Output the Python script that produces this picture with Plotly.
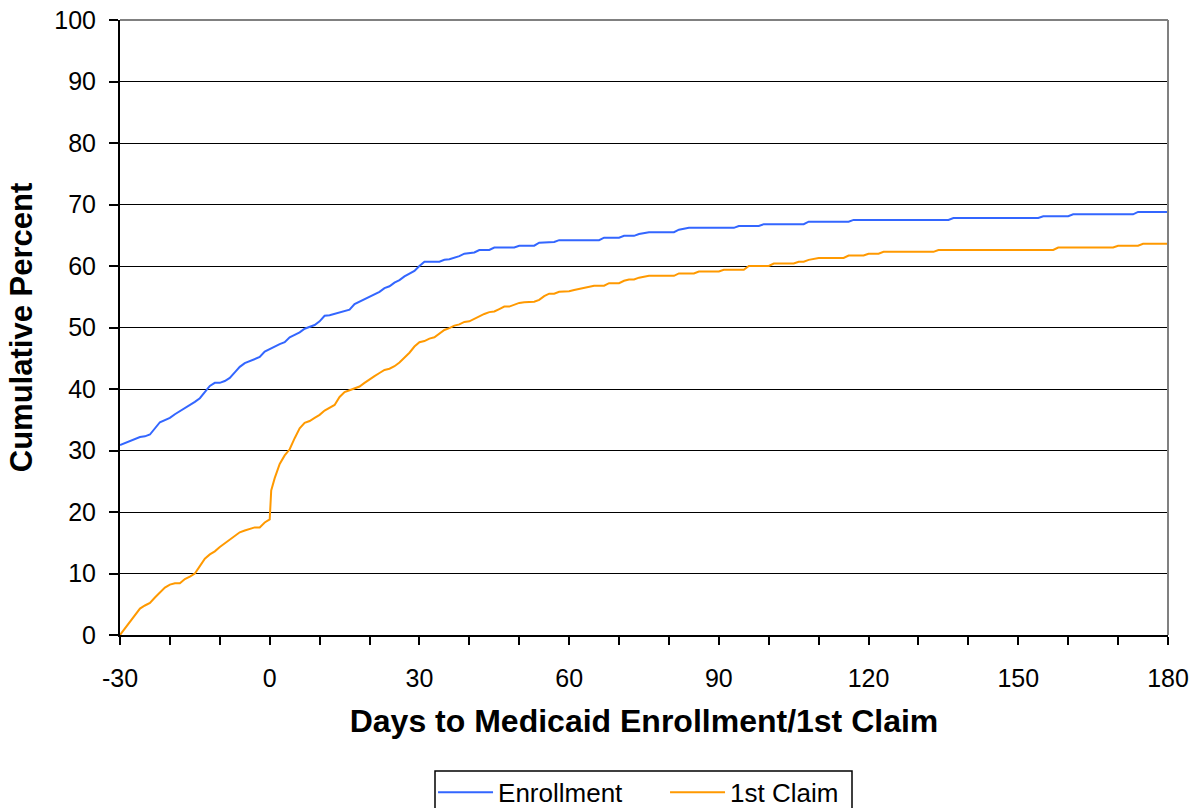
import plotly.graph_objects as go

# Cumulative percent by day relative to Medicaid enrollment / first claim
enroll_days = [-30, -28, -26, -25, -24, -22, -21, -20, -19, -18, -17, -16, -15, -14, -13,
               -12, -11, -10, -9, -8, -7, -6, -5, -4, -3, -2, -1, 0, 1, 2, 3, 4, 5, 6, 7,
               8, 9, 10, 11, 12, 13, 14, 15, 16, 17, 18, 19, 20, 21, 22, 23, 24, 25, 26, 27,
               28, 29, 30, 31, 34, 35, 36, 37, 38, 39, 41, 42, 44, 45, 49, 50, 53, 54, 57,
               58, 66, 67, 70, 71, 73, 74, 76, 81, 82, 84, 93, 94, 98, 99, 107, 108, 116,
               117, 136, 137, 154, 155, 160, 161, 173, 174, 180]
enroll_pct = [30.9, 31.6, 32.2, 32.3, 32.6, 34.6, 35.0, 35.3, 35.9, 36.4, 36.8, 37.4, 37.9,
              38.5, 39.6, 40.5, 41.0, 41.0, 41.3, 41.8, 42.7, 43.6, 44.2, 44.5, 44.8, 45.2,
              46.1, 46.5, 47.0, 47.3, 47.6, 48.4, 48.8, 49.2, 49.8, 50.1, 50.4, 51.0, 51.9,
              52.0, 52.2, 52.5, 52.6, 52.9, 53.8, 54.2, 54.6, 55.0, 55.4, 55.8, 56.4, 56.7,
              57.3, 57.7, 58.3, 58.7, 59.2, 60.0, 60.7, 60.7, 61.0, 61.1, 61.3, 61.6, 62.0,
              62.2, 62.6, 62.6, 63.0, 63.0, 63.3, 63.3, 63.8, 63.9, 64.2, 64.2, 64.6, 64.6,
              64.9, 64.9, 65.2, 65.5, 65.5, 65.9, 66.2, 66.2, 66.5, 66.5, 66.8, 66.8, 67.2,
              67.2, 67.5, 67.5, 67.8, 67.8, 68.1, 68.1, 68.4, 68.4, 68.8, 68.8]

claim_days = [-30, -28, -27, -26, -25, -24, -23, -22, -21, -20, -19, -18, -17, -16, -15,
              -14, -13, -12, -11, -10, -9, -8, -7, -6, -5, -4, -3, -2, -1, 0, 0.3, 1, 2,
              3, 4, 5, 6, 7, 8, 9, 10, 11, 12, 13, 14, 15, 16, 17, 18, 19, 20, 21, 22, 23,
              24, 25, 26, 27, 28, 29, 30, 31, 32, 33, 34, 35, 36, 37, 38, 39, 40, 41, 42,
              43, 44, 45, 46, 47, 48, 49, 50, 51, 53, 54, 55, 56, 57, 58, 60, 61, 62, 63,
              64, 65, 67, 68, 70, 71, 72, 73, 74, 76, 81, 82, 85, 86, 90, 91, 95, 96, 100,
              101, 105, 106, 107, 108, 110, 115, 116, 119, 120, 122, 123, 133, 134, 157,
              158, 169, 170, 174, 175, 180]
claim_pct = [0.0, 2.2, 3.2, 4.3, 4.8, 5.2, 6.1, 6.9, 7.7, 8.2, 8.4, 8.4, 9.1, 9.5, 10.0,
             11.2, 12.4, 13.1, 13.6, 14.3, 14.9, 15.6, 16.2, 16.7, 17.0, 17.3, 17.5, 17.5,
             18.3, 18.8, 23.5, 25.5, 27.8, 29.2, 30.2, 32.0, 33.6, 34.5, 34.8, 35.3, 35.8,
             36.5, 36.9, 37.4, 38.7, 39.5, 39.8, 40.1, 40.4, 41.0, 41.6, 42.1, 42.6, 43.1,
             43.3, 43.7, 44.3, 45.1, 45.9, 46.9, 47.6, 47.8, 48.2, 48.4, 49.0, 49.6, 49.9,
             50.3, 50.5, 50.9, 51.0, 51.4, 51.9, 52.2, 52.5, 52.6, 53.0, 53.4, 53.4, 53.7,
             54.0, 54.1, 54.2, 54.5, 55.1, 55.5, 55.5, 55.8, 55.9, 56.1, 56.3, 56.5, 56.6,
             56.8, 56.8, 57.2, 57.2, 57.6, 57.8, 57.8, 58.1, 58.4, 58.4, 58.8, 58.8, 59.1,
             59.1, 59.4, 59.4, 60.0, 60.0, 60.4, 60.4, 60.7, 60.7, 61.0, 61.3, 61.3, 61.7,
             61.7, 62.0, 62.0, 62.3, 62.3, 62.6, 62.6, 63.0, 63.0, 63.3, 63.3, 63.6, 63.6]

x_tick_vals = list(range(-30, 181, 10))
x_tick_text = [str(v) if v % 30 == 0 else "" for v in x_tick_vals]
y_tick_vals = list(range(0, 101, 10))

FONT = "Arial, 'Liberation Sans', sans-serif"

fig = go.Figure()
fig.add_trace(go.Scatter(x=enroll_days, y=enroll_pct, mode="lines", name="Enrollment",
                         line=dict(color="#3366FF", width=2)))
fig.add_trace(go.Scatter(x=claim_days, y=claim_pct, mode="lines", name="1st Claim",
                         line=dict(color="#FF9900", width=2)))

fig.update_layout(
    width=1198, height=808,
    margin=dict(l=120, r=30, t=20, b=173, autoexpand=False),
    paper_bgcolor="white", plot_bgcolor="white",
    font=dict(family=FONT, size=25, color="black"),
    showlegend=True,
    legend=dict(orientation="h", x=0.2987, xanchor="left", y=-0.2177, yanchor="top",
                borderwidth=0, bgcolor="rgba(0,0,0,0)",
                font=dict(size=26), itemwidth=55, entrywidth=162, entrywidthmode="pixels"),
    xaxis=dict(range=[-30, 180], tickvals=x_tick_vals, ticktext=x_tick_text,
               ticks="outside", ticklen=8, tickwidth=2, tickcolor="black",
               showline=True, linecolor="black", linewidth=2,
               showgrid=False, zeroline=False, ticklabelstandoff=12,
               title=dict(text="<b>Days to Medicaid Enrollment/1st Claim</b>",
                          font=dict(size=32), standoff=19)),
    yaxis=dict(range=[0, 100], tickvals=y_tick_vals,
               ticks="outside", ticklen=9, tickwidth=2, tickcolor="black",
               showline=True, linecolor="black", linewidth=2,
               showgrid=True, gridcolor="black", gridwidth=1, zeroline=False,
               ticklabelstandoff=8,
               title=dict(text="<b>Cumulative Percent</b>", font=dict(size=31), standoff=12)),
)

# light grey frame along the top and right edges of the plotting area
fig.add_shape(type="line", xref="paper", yref="paper", x0=0, x1=1, y0=1, y1=1,
              line=dict(color="#808080", width=2), layer="above")
fig.add_shape(type="line", xref="paper", yref="paper", x0=1, x1=1, y0=0, y1=1,
              line=dict(color="#808080", width=2), layer="above")

# legend frame, sized to the two legend entries
plot_w, plot_h = 1048, 615
fig.add_shape(type="rect", xref="paper", yref="paper",
              x0=(435 - 120) / plot_w, x1=(852 - 120) / plot_w,
              y0=(635 - 771) / plot_h, y1=(635 - 830) / plot_h,
              line=dict(color="black", width=1.5), fillcolor="rgba(0,0,0,0)", layer="above")

fig.write_html("out.html")
